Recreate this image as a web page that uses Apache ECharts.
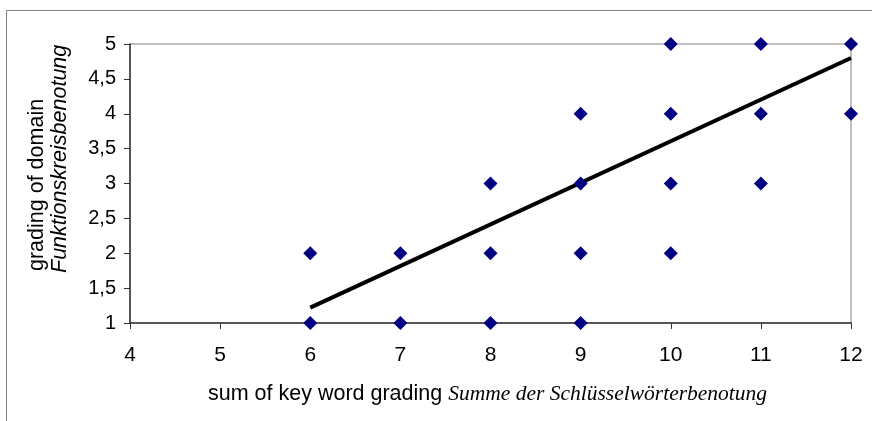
<!DOCTYPE html>
<html>
<head>
<meta charset="utf-8">
<script src="https://cdn.jsdelivr.net/npm/echarts@6/dist/echarts.min.js"></script>
<style>html,body{margin:0;padding:0;background:#fff}#c{width:872px;height:421px}</style>
</head>
<body>
<div id="c"></div>
<script>
var keyWordSum = [6, 6, 7, 7, 8, 8, 8, 9, 9, 9, 9, 10, 10, 10, 10, 11, 11, 11, 12, 12];
var domainGrade = [2, 1, 2, 1, 3, 2, 1, 4, 3, 2, 1, 5, 4, 3, 2, 5, 4, 3, 5, 4];
var trendX = [6, 12];
var trendY = [1.22, 4.8];
var xAxisTitleEn = 'sum of key word grading ';
var xAxisTitleDe = 'Summe der Schlüsselwörterbenotung';
var yAxisTitleEn = 'grading of domain';
var yAxisTitleDe = 'Funktionskreisbenotung';

var chart = echarts.init(document.getElementById('c'));
var points = keyWordSum.map(function (x, i) { return [x, domainGrade[i]]; });
var trend = trendX.map(function (x, i) { return [x, trendY[i]]; });

chart.setOption({
  animation: false,
  backgroundColor: '#fff',
  grid: { left: 130, right: 21, top: 44, bottom: 98, show: true, borderColor: '#808080', borderWidth: 1, backgroundColor: 'transparent' },
  xAxis: {
    type: 'value', min: 4, max: 12, interval: 1,
    axisLine: { show: true, lineStyle: { color: '#333', width: 1.5 } },
    axisTick: { show: true, inside: false, length: 6, lineStyle: { color: '#333' } },
    axisLabel: { color: '#000', fontFamily: 'Liberation Sans, Arial', fontSize: 21, margin: 22 },
    splitLine: { show: false }
  },
  yAxis: {
    type: 'value', min: 1, max: 5, interval: 0.5,
    axisLine: { show: true, lineStyle: { color: '#333', width: 1.5 } },
    axisTick: { show: true, inside: false, length: 6, lineStyle: { color: '#333' } },
    axisLabel: { color: '#000', fontFamily: 'Liberation Sans, Arial', fontSize: 20, margin: 14,
      formatter: function (v) { return String(v).replace('.', ','); } },
    splitLine: { show: false }
  },
  graphic: [
    { type: 'rect', silent: true, shape: { x: 6.5, y: 10.5, width: 1000, height: 1000 },
      style: { fill: 'none', stroke: '#808080', lineWidth: 1 }, z: -1 },
    { type: 'text', x: 208, y: 394,
      style: { text: '{a|' + xAxisTitleEn + '}{b|' + xAxisTitleDe + '}', textVerticalAlign: 'middle', textAlign: 'left',
        rich: { a: { fontFamily: 'Liberation Sans, Arial', fontSize: 21.5, fill: '#000' },
                b: { fontFamily: 'Liberation Serif, Times New Roman', fontStyle: 'italic', fontSize: 21.5, fill: '#000' } } } },
    { type: 'text', x: 37, y: 271, rotation: Math.PI / 2,
      style: { text: yAxisTitleEn, fontFamily: 'Liberation Sans, Arial', fontSize: 21.5, fill: '#000', textAlign: 'left', textVerticalAlign: 'middle' } },
    { type: 'text', x: 60, y: 273, rotation: Math.PI / 2,
      style: { text: yAxisTitleDe, fontFamily: 'Liberation Sans, Arial', fontStyle: 'italic', fontSize: 21.5, fill: '#000', textAlign: 'left', textVerticalAlign: 'middle' } }
  ],
  series: [
    { type: 'scatter', data: points, symbol: 'diamond', symbolSize: 14, itemStyle: { color: '#000080', opacity: 1 }, z: 3 },
    { type: 'line', data: trend, showSymbol: false, symbol: 'none', lineStyle: { color: '#000', width: 4 }, z: 2 }
  ]
});
</script>
</body>
</html>
